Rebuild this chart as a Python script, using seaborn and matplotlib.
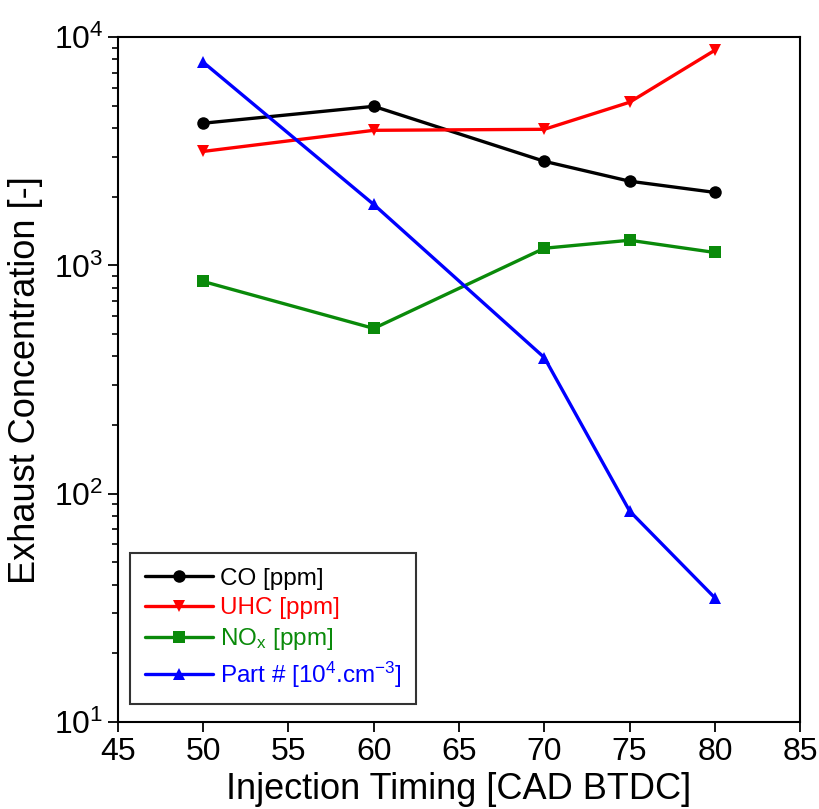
import matplotlib
matplotlib.use("Agg")
import matplotlib.pyplot as plt
import seaborn as sns
import pandas as pd
from matplotlib.ticker import LogLocator, NullFormatter

sns.set_theme(style="white")
plt.rcParams['font.family'] = ['Liberation Sans', 'DejaVu Sans']
plt.rcParams['mathtext.fontset'] = 'custom'
plt.rcParams['mathtext.rm'] = 'Liberation Sans'
plt.rcParams['mathtext.it'] = 'Liberation Sans'
plt.rcParams['text.color'] = 'black'
plt.rcParams['axes.labelcolor'] = 'black'
plt.rcParams['xtick.color'] = 'black'
plt.rcParams['ytick.color'] = 'black'

timing = [50, 60, 70, 75, 80]
co = [4200, 4980, 2860, 2340, 2090]
uhc = [3160, 3910, 3950, 5190, 8770]
nox = [851, 530, 1190, 1290, 1140]
part = [7770, 1850, 395, 84, 35]

labels = ["CO [ppm]", "UHC [ppm]", r"NO$_\mathregular{x}$ [ppm]", r"Part # [10$^\mathregular{4}$.cm$^\mathregular{-3}$]"]
colors = ["black", "red", "#0a8a0a", "#0000ff"]
markers = ["o", "v", "s", "^"]

df = pd.concat([
    pd.DataFrame({"timing": timing, "value": v, "series": lab})
    for v, lab in zip([co, uhc, nox, part], labels)
])

fig = plt.figure(figsize=(8.19, 8.09), dpi=100)
ax = fig.add_axes([0.144, 0.1075, 0.833, 0.8465])

sns.lineplot(data=df, x="timing", y="value", hue="series", style="series",
             palette=dict(zip(labels, colors)), markers=dict(zip(labels, markers)),
             dashes=False, linewidth=2.4, markersize=9, markeredgewidth=0,
             ax=ax, legend=True)

ax.set_yscale("log")
ax.set_ylim(10, 1e4)
ax.set_xlim(45, 85)
ax.set_xticks([45, 50, 55, 60, 65, 70, 75, 80, 85])
ax.yaxis.set_major_locator(LogLocator(base=10, numticks=10))
ax.yaxis.set_minor_locator(LogLocator(base=10, subs=range(2, 10), numticks=100))
ax.yaxis.set_minor_formatter(NullFormatter())

ax.tick_params(axis="both", which="major", direction="out", length=7, width=1.3,
               labelsize=23, left=True, bottom=True, top=False, right=False)
ax.tick_params(axis="y", which="minor", direction="out", length=4, width=1.2, left=True)
for s in ax.spines.values():
    s.set_color("black")
    s.set_linewidth(1.5)

ax.set_xlabel("Injection Timing [CAD BTDC]", fontsize=26, labelpad=4)
ax.set_ylabel("Exhaust Concentration [-]", fontsize=26, labelpad=8)

leg = ax.legend(loc="lower left", fontsize=17.5, frameon=True, fancybox=False,
                edgecolor="black", handlelength=2.8, handletextpad=0.3,
                borderpad=0.6, labelspacing=0.3, bbox_to_anchor=(0.0, 0.008))
leg.get_frame().set_linewidth(1.5)
for t, c in zip(leg.get_texts(), colors):
    t.set_color(c)

fig.savefig("out.png", dpi=100, facecolor="white")
